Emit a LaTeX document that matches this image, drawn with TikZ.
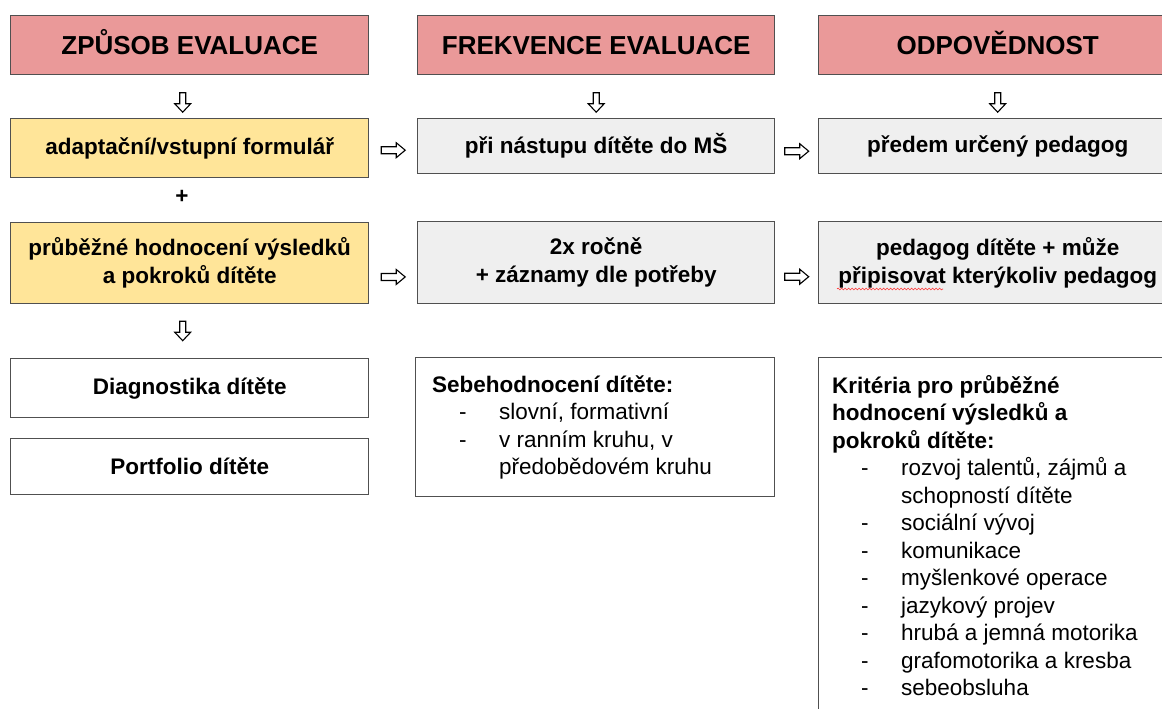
\documentclass[tikz,border=0pt]{standalone}
\usepackage{fontspec}
\setmainfont{Liberation Sans}
\usetikzlibrary{calc,decorations.pathmorphing}
\definecolor{hdr}{HTML}{EA9999}
\definecolor{ylw}{HTML}{FFE599}
\definecolor{gry}{HTML}{EFEFEF}
\definecolor{brd}{HTML}{505050}
\tikzset{
  box/.style={draw=brd, line width=1.4pt, inner sep=0pt, align=center, anchor=north west,
    font=\fontsize{22.5}{28}\selectfont\bfseries},
  hbox/.style={box, fill=hdr, font=\fontsize{26}{30}\selectfont\bfseries, text height=18.6pt, text depth=0pt},
  ybox/.style={box, fill=ylw},
  gbox/.style={box, fill=gry},
  wbox/.style={box, fill=white},
  arrowline/.style={draw=black, fill=white, line width=1.1pt, line join=miter},
  rarr/.pic={\path[arrowline] (-12,-3.5) -- (3,-3.5) -- (3,-7.5) -- (12,0) -- (3,7.5) -- (3,3.5) -- (-12,3.5) -- cycle;},
  darr/.pic={\path[arrowline] (-3,-10) -- (-3,1) -- (-8,1) -- (0,9.5) -- (8,1) -- (3,1) -- (3,-10) -- cycle;},
  listtext/.style={anchor=base west, inner sep=0pt, font=\fontsize{22.5}{27.5}\selectfont}
}
\begin{document}
\begin{tikzpicture}[x=1pt,y=-1pt]
\useasboundingbox (0,0) rectangle (1162,709);
\clip (0,0) rectangle (1162,709);
% headers
\node[hbox, minimum width=358pt, minimum height=59pt] (h1) at (10,15) {ZPŮSOB EVALUACE};
\node[hbox, minimum width=357pt, minimum height=59pt] (h2) at (417,15) {FREKVENCE EVALUACE};
\node[hbox, minimum width=358pt, minimum height=59pt] (h3) at (818,15) {ODPOVĚDNOST};
% row 1
\node[ybox, minimum width=358pt, minimum height=59pt] (a1) at (10,118) {adaptační/vstupní formulář};
\node[gbox, minimum width=357pt, minimum height=55pt] (a2) at (417,118) {při nástupu dítěte do MŠ};
\node[gbox, minimum width=358pt, minimum height=55pt] (a3) at (818,118) {předem určený pedagog};
% plus
\node[inner sep=0pt, font=\fontsize{22.5}{28}\selectfont\bfseries] (plus) at (182,197) {+};
% row 2
\node[ybox, minimum width=358pt, minimum height=81pt] (b1) at (10,222) {průběžné hodnocení výsledků\\a pokroků dítěte};
\node[gbox, minimum width=357pt, minimum height=82pt] (b2) at (417,221) {2x ročně\\+ záznamy dle potřeby};
\node[gbox, minimum width=358pt, minimum height=82pt] (b3) at (818,221) {pedagog dítěte + může\\připisovat kterýkoliv pedagog};
% row 3
\node[wbox, minimum width=358pt, minimum height=59pt] (c1) at (10,358) {Diagnostika dítěte};
\node[wbox, minimum width=358pt, minimum height=56pt] (d1) at (10,438) {Portfolio dítěte};
\node[wbox, minimum width=359pt, minimum height=139pt] (c2) at (415,357) {};
\node[wbox, minimum width=358pt, minimum height=400pt] (c3) at (818,357) {};
% list texts
\node[listtext] (c2t) at (432,392) {\parbox[t]{330pt}{\textbf{Sebehodnocení dítěte:}\\
\hspace*{27pt}\makebox[40pt][l]{-}slovní, formativní\\
\hspace*{27pt}\makebox[40pt][l]{-}v ranním kruhu, v\\
\hspace*{67pt}předobědovém kruhu}};
\node[listtext] (c3t) at (832,393) {\parbox[t]{330pt}{\textbf{Kritéria pro průběžné}\\
\textbf{hodnocení výsledků a}\\
\textbf{pokroků dítěte:}\\
\hspace*{29pt}\makebox[40pt][l]{-}rozvoj talentů, zájmů a\\
\hspace*{69pt}schopností dítěte\\
\hspace*{29pt}\makebox[40pt][l]{-}sociální vývoj\\
\hspace*{29pt}\makebox[40pt][l]{-}komunikace\\
\hspace*{29pt}\makebox[40pt][l]{-}myšlenkové operace\\
\hspace*{29pt}\makebox[40pt][l]{-}jazykový projev\\
\hspace*{29pt}\makebox[40pt][l]{-}hrubá a jemná motorika\\
\hspace*{29pt}\makebox[40pt][l]{-}grafomotorika a kresba\\
\hspace*{29pt}\makebox[40pt][l]{-}sebeobsluha}};
% spell-check underline
\coordinate (sq1) at (837,289);
\coordinate (sq2) at (943,289);
\draw[red!80, line width=0.6pt, decorate, decoration={snake, amplitude=0.9pt, segment length=3.5pt}] (sq1) -- (sq2);
% down arrows
\pic at ($(h1.south)!0.5!(a1.north)+(-7,6)$) {darr};
\pic at ($(h2.south)!0.5!(a2.north)+(0,6)$) {darr};
\pic at ($(h3.south)!0.5!(a3.north)+(0,6)$) {darr};
\pic at ($(b1.south)!0.5!(c1.north)+(-7,0)$) {darr};
% right arrows
\pic at ($(a1.east)!0.5!(a2.west)+(0,3)$) {rarr};
\pic at ($(a2.east)!0.5!(a3.west)+(0,5)$) {rarr};
\pic at ($(b1.east)!0.5!(b2.west)+(0,14)$) {rarr};
\pic at ($(b2.east)!0.5!(b3.west)+(0,14)$) {rarr};
\end{tikzpicture}
\end{document}
